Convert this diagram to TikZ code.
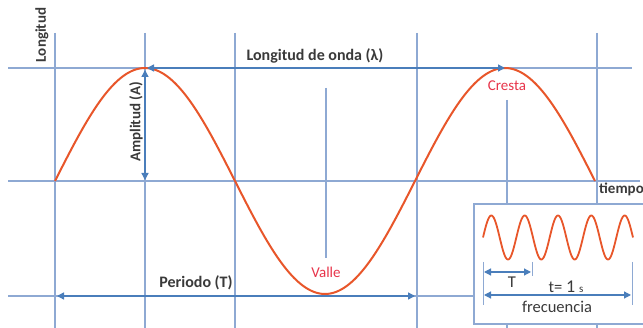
\documentclass[tikz,border=0pt]{standalone}
\usepackage{fontspec}
\setmainfont{Carlito}
\usetikzlibrary{arrows.meta}
\definecolor{gridblue}{HTML}{8EA9D3}
\definecolor{arrblue}{HTML}{4A7EBB}
\definecolor{wavered}{HTML}{E8562A}
\definecolor{labred}{HTML}{E8344A}
\definecolor{txt}{HTML}{3A3A3A}
\tikzset{
  gridline/.style={draw=gridblue, line width=1.3pt},
  wave/.style={draw=wavered, line width=2pt},
  dimarrow/.style={draw=arrblue, line width=1.4pt, {Triangle[width=7pt,length=7pt]}-{Triangle[width=7pt,length=7pt]}},
  lab/.style={font=\fontsize{16}{17}\selectfont\bfseries, text=txt, inner sep=1pt},
  smalllab/.style={font=\fontsize{15}{16}\selectfont\bfseries, text=txt, inner sep=1pt},
  redlab/.style={font=\fontsize{15}{16}\selectfont, text=labred, inner sep=1pt},
  insetlab/.style={font=\fontsize{16.5}{17}\selectfont, text=txt, inner sep=1pt},
  thin/.style={draw=gridblue, line width=0.8pt}
}
\begin{document}
\begin{tikzpicture}[x=1pt,y=-1pt]
\useasboundingbox (0,0) rectangle (643,328);
\fill[white] (0,0) rectangle (643,328);
\begin{scope}
\clip (0,0) rectangle (643,328);
% horizontal grid lines
\coordinate (hl1) at (8,68);  \coordinate (hr1) at (632,68);
\coordinate (hl2) at (8,181); \coordinate (hr2) at (640,181);
\coordinate (hl3) at (8,296); \coordinate (hr3) at (640,296);
\draw[gridline] (hl1) -- (hr1);
\draw[gridline] (hl2) -- (hr2);
\draw[gridline] (hl3) -- (hr3);
% vertical grid lines
\foreach \n/\x in {a/55,b/145,c/235,d/417,e/597}{
  \coordinate (vt\n) at (\x,33); \coordinate (vb\n) at (\x,330);
  \draw[gridline] (vt\n) -- (vb\n);
}
\coordinate (vct) at (507,100); \coordinate (vcb) at (507,330);
\draw[gridline] (vct) -- (vcb);
\coordinate (vvt) at (326,88); \coordinate (vvb) at (326,258);
\draw[gridline] (vvt) -- (vvb);
% main wave
\draw[wave] plot[domain=0:540, samples=241, smooth] ({55+\x},{181-113*sin(\x)});
% labels
\node[smalllab, rotate=90] (ylab) at (42,35) {Longitud};
\node[smalllab, anchor=west] (tlab) at (598,189) {tiempo};
\node[lab] (llab) at (315,56) {Longitud de onda (λ)};
\node[lab] (plab) at (196,283) {Periodo (T)};
\node[redlab] (cres) at (507,86) {Cresta};
\node[redlab] (valle) at (326,272) {Valle};
% dimension arrows
\coordinate (la) at (147,68); \coordinate (lb) at (505,68);
\draw[dimarrow] (la) -- (lb);
\coordinate (pa) at (57,296); \coordinate (pb) at (415,296);
\draw[dimarrow] (pa) -- (pb);
\coordinate (aa) at (145,70); \coordinate (ab) at (145,180);
\draw[dimarrow] (aa) -- (ab);
\node[smalllab, rotate=90, fill=white, inner sep=0.5pt] (alab) at (136,122) {Amplitud (A)};
% inset
\node[draw=gridblue, line width=1.6pt, fill=white, minimum width=170pt, minimum height=120pt, anchor=north west, inner sep=0] (box) at (473,203) {};
\draw[wave, line width=1.8pt] plot[domain=0:150, samples=241, smooth] ({483+\x},{237.5-22*sin(10.8*\x)});
\coordinate (i1t) at (483,262); \coordinate (i1b) at (483,305);
\coordinate (i2t) at (532,262); \coordinate (i2b) at (532,276);
\coordinate (i3t) at (632,262); \coordinate (i3b) at (632,305);
\draw[thin] (i1t) -- (i1b);
\draw[thin] (i2t) -- (i2b);
\draw[thin] (i3t) -- (i3b);
\coordinate (ta) at (484,272); \coordinate (tb) at (531,272);
\draw[dimarrow, line width=1.2pt] (ta) -- (tb);
\coordinate (fa) at (484,295); \coordinate (fb) at (631,295);
\draw[dimarrow, line width=1.2pt] (fa) -- (fb);
\node[insetlab] (Tlab) at (512,282) {T};
\node[insetlab] (onesec) at (566,287) {t= {\fontsize{18}{18}\selectfont 1} {\fontsize{11}{12}\selectfont s}};
\node[insetlab] (freq) at (557,307) {frecuencia};
\end{scope}
\end{tikzpicture}
\end{document}
